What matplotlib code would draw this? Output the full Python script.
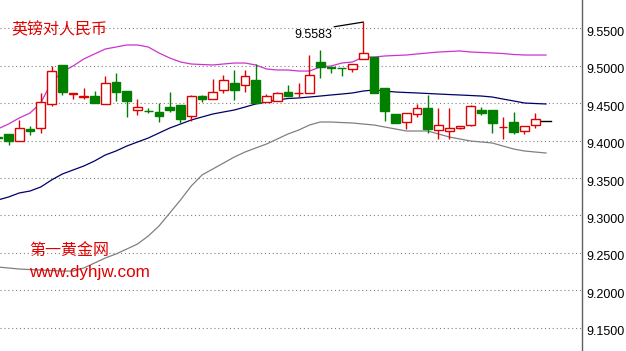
import numpy as np
import matplotlib.pyplot as plt
import matplotlib.transforms as mtransforms

plt.rcParams['font.family'] = ['Noto Sans CJK SC', 'DejaVu Sans']

# candle data (index -1 is the bar cut off at the left edge, index 50 the current bar)
idx = np.arange(-1, 51)
opens = [9.4054, 9.4084, 9.3994, 9.4159, 9.4164, 9.4485, 9.5010, 9.4618, 9.4582, 9.4595,
         9.4485, 9.4786, 9.4662, 9.4412, 9.4398, 9.4386, 9.4448, 9.4475, 9.4328, 9.4595,
         9.4559, 9.4676, 9.4765, 9.4742, 9.4809, 9.4519, 9.4529, 9.4649, 9.4629, 9.4632,
         9.5046, 9.4983, 9.4970, 9.4952, 9.5086, 9.5121, 9.4698, 9.4351, 9.4244, 9.4355,
         9.4431, 9.4141, 9.4132, 9.4164, 9.4208, 9.4408, 9.4408, 9.4175, 9.4244, 9.4132,
         9.4204, 9.4261]
highs = [9.4074, 9.4088, 9.4275, 9.4195, 9.4632, 9.4996, 9.5015, 9.4640, 9.4698, 9.4666,
         9.4863, 9.4907, 9.4662, 9.4551, 9.4439, 9.4498, 9.4649, 9.4475, 9.4609, 9.4609,
         9.4819, 9.4876, 9.4943, 9.4943, 9.5019, 9.4622, 9.4653, 9.4742, 9.4773, 9.5143,
         9.5210, 9.4983, 9.4970, 9.5019, 9.5583, 9.5121, 9.4698, 9.4351, 9.4364, 9.4489,
         9.4609, 9.4431, 9.4431, 9.4195, 9.4475, 9.4453, 9.4408, 9.4311, 9.4378, 9.4191,
         9.4364, 9.4261]
lows = [9.4021, 9.3941, 9.3994, 9.4070, 9.4097, 9.4462, 9.4609, 9.4551, 9.4551, 9.4498,
        9.4485, 9.4529, 9.4311, 9.4338, 9.4364, 9.4252, 9.4386, 9.4231, 9.4261, 9.4519,
        9.4559, 9.4632, 9.4542, 9.4653, 9.4498, 9.4515, 9.4529, 9.4602, 9.4578, 9.4632,
        9.4840, 9.4899, 9.4863, 9.4920, 9.5086, 9.4632, 9.4265, 9.4231, 9.4151, 9.4311,
        9.4097, 9.4017, 9.4017, 9.4155, 9.4195, 9.4342, 9.4105, 9.4017, 9.4084, 9.4088,
        9.4172, 9.4261]
closes = [9.4041, 9.3998, 9.4164, 9.4132, 9.4511, 9.4933, 9.4653, 9.4640, 9.4589, 9.4498,
          9.4765, 9.4645, 9.4533, 9.4448, 9.4392, 9.4324, 9.4412, 9.4288, 9.4595, 9.4559,
          9.4645, 9.4805, 9.4676, 9.4863, 9.4498, 9.4595, 9.4640, 9.4602, 9.4636, 9.4872,
          9.4987, 9.4976, 9.4963, 9.5019, 9.5166, 9.4632, 9.4399, 9.4231, 9.4364, 9.4431,
          9.4159, 9.4208, 9.4164, 9.4195, 9.4462, 9.4372, 9.4231, 9.4181, 9.4119, 9.4191,
          9.4284, 9.4261]

# bollinger bands
upper = [9.4155, 9.4221, 9.4302, 9.4368, 9.4502, 9.4782, 9.4916, 9.4996, 9.5090, 9.5157,
         9.5223, 9.5250, 9.5277, 9.5277, 9.5250, 9.5170, 9.5103, 9.5050, 9.5023, 9.5016,
         9.5010, 9.5023, 9.5036, 9.5036, 9.5010, 9.4956, 9.4943, 9.4943, 9.4929, 9.4929,
         9.4983, 9.4996, 9.5036, 9.5050, 9.5116, 9.5116, 9.5130, 9.5137, 9.5143, 9.5157,
         9.5170, 9.5183, 9.5190, 9.5197, 9.5183, 9.5177, 9.5170, 9.5163, 9.5150, 9.5143,
         9.5143, 9.5143]
middle = [9.3206, 9.3246, 9.3300, 9.3326, 9.3380, 9.3473, 9.3553, 9.3607, 9.3660, 9.3727,
          9.3807, 9.3861, 9.3927, 9.3981, 9.4034, 9.4101, 9.4168, 9.4221, 9.4275, 9.4315,
          9.4355, 9.4382, 9.4408, 9.4448, 9.4489, 9.4515, 9.4542, 9.4562, 9.4569, 9.4582,
          9.4595, 9.4609, 9.4622, 9.4636, 9.4662, 9.4676, 9.4662, 9.4649, 9.4642, 9.4636,
          9.4629, 9.4622, 9.4615, 9.4609, 9.4602, 9.4595, 9.4582, 9.4555, 9.4529, 9.4502,
          9.4495, 9.4489]
lower = [9.2311, 9.2298, 9.2284, 9.2277, 9.2271, 9.2264, 9.2257, 9.2257, 9.2298, 9.2364,
         9.2431, 9.2485, 9.2551, 9.2618, 9.2725, 9.2859, 9.3032, 9.3206, 9.3393, 9.3540,
         9.3620, 9.3700, 9.3780, 9.3847, 9.3901, 9.3954, 9.4021, 9.4088, 9.4141, 9.4208,
         9.4248, 9.4248, 9.4241, 9.4235, 9.4221, 9.4208, 9.4181, 9.4155, 9.4128, 9.4128,
         9.4128, 9.4088, 9.4048, 9.4021, 9.3994, 9.3981, 9.3968, 9.3927, 9.3887, 9.3861,
         9.3847, 9.3834]

yticks = [9.15, 9.20, 9.25, 9.30, 9.35, 9.40, 9.45, 9.50, 9.55]
high_mark = 9.5583

RED = '#e00000'
GREEN = '#007f00'

fig = plt.figure(figsize=(6.26, 3.51), dpi=100)
ax = fig.add_axes([0, 0, 582 / 626, 1])
ax.set_xlim(-0.791, 53.35)
ax.set_ylim(9.1189, 9.5878)

for y in yticks:
    ax.axhline(y, color='#808080', lw=0.8, ls=(0, (1, 2.5)), zorder=0)

ax.plot(idx, upper, color='#cc33cc', lw=0.9, zorder=1)
ax.plot(idx, middle, color='#000066', lw=0.9, zorder=1)
ax.plot(idx, lower, color='#808080', lw=0.9, zorder=1)

for i, o, h, l, c in zip(idx, opens, highs, lows, closes):
    if i == 50:
        ax.plot([i - 0.45, i + 0.45], [c, c], color='black', lw=1, zorder=3)
        continue
    up = c >= o
    col = RED if up else GREEN
    ax.vlines(i, l, h, color=col, lw=1, zorder=2)
    ax.bar(i, max(abs(c - o), 0.0003), bottom=min(o, c), width=0.8,
           color='white' if up else GREEN, edgecolor=col, lw=1, zorder=3)

# high label with leader line
ax.plot([30.31, 33], [9.5521, high_mark], color='black', lw=0.9, zorder=3)
ax.text(30.15, 9.5410, f"{high_mark:.4f}", ha='right', va='center', fontsize=9,
        family='Liberation Sans', color='black')

ax.text(0.02, 0.915, "英镑对人民币", transform=ax.transAxes, fontsize=11.5, color=RED,
        va='center', ha='left')
ax.text(0.05, 0.285, "第一黄金网", transform=ax.transAxes, fontsize=11.5, color=RED,
        va='center', ha='left')
ax.text(0.05, 0.225, "www.dyhjw.com", transform=ax.transAxes, fontsize=12.3, color=RED,
        va='center', ha='left', family='Liberation Sans')

for s in ['left', 'top', 'bottom']:
    ax.spines[s].set_visible(False)
ax.spines['right'].set_color('#606060')
ax.spines['right'].set_linewidth(1)
ax.set_xticks([])
ax.yaxis.tick_right()
ax.set_yticks(yticks)
ax.set_yticklabels([f"{v:.4f}" for v in yticks], family='Liberation Sans', fontsize=9)
ax.tick_params(axis='y', length=0, pad=3)
shift = mtransforms.ScaledTranslation(0, -3 / 100, fig.dpi_scale_trans)
for lbl in ax.get_yticklabels():
    lbl.set_transform(lbl.get_transform() + shift)

fig.savefig('out.png', dpi=100)
